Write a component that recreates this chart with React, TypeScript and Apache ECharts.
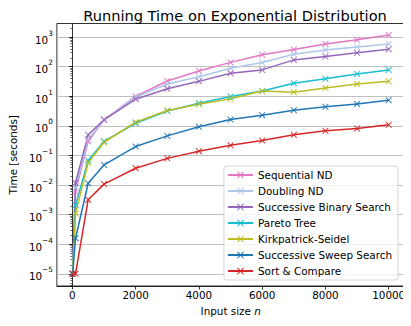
import React, { useEffect, useRef } from "react";
import * as echarts from "echarts";

const inputSizes = [10, 100, 500, 1000, 2000, 3000, 4000, 5000, 6000, 7000, 8000, 9000, 10000];
const sequentialND = [1e-5, 0.006, 0.3, 1.6, 10, 33, 72, 140, 255, 380, 590, 810, 1180];
const doublingND = [1e-5, 0.008, 0.35, 1.6, 9.3, 26, 46, 89, 138, 265, 370, 460, 590];
const successiveBinary = [1e-5, 0.012, 0.5, 1.6, 8, 18, 32, 60, 78, 170, 220, 295, 390];
const paretoTree = [1e-5, 0.0021, 0.068, 0.3, 1.23, 3.2, 5.8, 9.8, 15, 27.5, 39, 57, 78];
const kirkpatrickSeidel = [1e-5, 0.0011, 0.057, 0.28, 1.33, 3.3, 5.4, 8.3, 15, 13.7, 19, 26, 32];
const successiveSweep = [1e-5, 1.6e-4, 0.0115, 0.048, 0.2, 0.46, 0.93, 1.64, 2.3, 3.4, 4.4, 5.5, 7.3];
const sortCompare = [1e-5, 1e-5, 0.0032, 0.0108, 0.037, 0.08, 0.14, 0.22, 0.32, 0.5, 0.68, 0.81, 1.1];

const seriesNames = [
  "Sequential ND",
  "Doubling ND",
  "Successive Binary Search",
  "Pareto Tree",
  "Kirkpatrick-Seidel",
  "Successive Sweep Search",
  "Sort & Compare",
];
const seriesValues = [
  sequentialND,
  doublingND,
  successiveBinary,
  paretoTree,
  kirkpatrickSeidel,
  successiveSweep,
  sortCompare,
];
const seriesColors = ["#e377c2", "#aec7e8", "#9467bd", "#17becf", "#bcbd22", "#1f77b4", "#d62728"];

const xTicks = [0, 2000, 4000, 6000, 8000, 10000];
const yTicks = [1e-5, 1e-4, 1e-3, 1e-2, 1e-1, 1, 10, 100, 1000];

const X_SYMBOL = "path://M0,1L1,0L5,4L9,0L10,1L6,5L10,9L9,10L5,6L1,10L0,9L4,5Z";

const FONT = "DejaVu Sans";
const FS = 10.4;

export default function App() {
  const ref = useRef<HTMLDivElement>(null);
  useEffect(() => {
    if (!ref.current) return;
    const chart = echarts.init(ref.current, null, { renderer: "svg" });
    chart.setOption({
      animation: false,
      backgroundColor: "#ffffff",
      title: {
        text: "Running Time on Exponential Distribution",
        left: 230,
        top: 3,
        textAlign: "center",
        textStyle: { fontFamily: FONT, fontSize: 14.6, fontWeight: "normal", color: "#000" },
      },
      grid: {
        left: 53.5,
        right: 6.5,
        top: 23.5,
        bottom: 40,
        show: true,
        borderColor: "#000",
        borderWidth: 0.8,
        backgroundColor: "transparent",
      },
      legend: {
        orient: "vertical",
        right: 13,
        bottom: 46,
        itemWidth: 25,
        itemHeight: 8.5,
        itemGap: 4,
        padding: [3, 6, 3, 3],
        backgroundColor: "rgba(255,255,255,0.8)",
        borderColor: "#cccccc",
        borderWidth: 0.8,
        borderRadius: 3,
        textStyle: { fontFamily: FONT, fontSize: FS, lineHeight: 12, color: "#000" },
        data: seriesNames,
      },
      xAxis: {
        type: "value",
        min: -489.5,
        max: 10499.5,
        name: "{a|Input size }{b|n}",
        nameLocation: "middle",
        nameGap: 20,
        nameTextStyle: {
          rich: {
            a: { fontFamily: FONT, fontSize: FS, color: "#000" },
            b: { fontFamily: FONT, fontSize: FS, color: "#000", fontStyle: "italic" },
          },
        },
        axisLine: { show: true, lineStyle: { color: "#000", width: 0.8 } },
        axisTick: { show: true, length: 3.5, customValues: xTicks, lineStyle: { color: "#000", width: 0.8 } },
        axisLabel: {
          customValues: xTicks,
          fontFamily: FONT,
          fontSize: FS,
          color: "#000",
          margin: 4,
          formatter: (v: number) => String(v),
        },
        splitLine: { show: false },
      },
      yAxis: {
        type: "log",
        logBase: 10,
        min: Math.pow(10, -5.41),
        max: Math.pow(10, 3.46),
        name: "Time [seconds]",
        nameLocation: "middle",
        nameGap: 38,
        nameTextStyle: { fontFamily: FONT, fontSize: FS, color: "#000" },
        axisLine: { show: true, lineStyle: { color: "#000", width: 0.8 } },
        axisTick: { show: true, length: 3.5, customValues: yTicks, lineStyle: { color: "#000", width: 0.8 } },
        minorTick: { show: true, splitNumber: 9, length: 2, lineStyle: { color: "#000", width: 0.6 } },
        axisLabel: {
          customValues: yTicks,
          color: "#000",
          margin: 4,
          formatter: (v: number) => {
            const e = Math.round(Math.log10(v));
            const s = e < 0 ? "\u2212" + String(-e) : String(e);
            return "{b|10}{s|" + s + "}";
          },
          rich: {
            b: { fontFamily: FONT, fontSize: FS, color: "#000", verticalAlign: "bottom", lineHeight: 15 },
            s: { fontFamily: FONT, fontSize: 7.3, color: "#000", verticalAlign: "top", lineHeight: 9 },
          },
        },
        splitLine: { show: true, lineStyle: { color: "#b0b0b0", width: 0.8 } },
      },
      series: seriesNames.map((name, i) => ({
        name,
        type: "line",
        data: inputSizes.map((x, j) => [x, seriesValues[i][j]]),
        symbol: X_SYMBOL,
        symbolSize: 6.5,
        showSymbol: true,
        lineStyle: { color: seriesColors[i], width: 1.5 },
        itemStyle: { color: seriesColors[i] },
        emphasis: { disabled: true },
      })),
    });
    return () => chart.dispose();
  }, []);
  return <div ref={ref} style={{ width: 411, height: 326, margin: -8 }} />;
}
